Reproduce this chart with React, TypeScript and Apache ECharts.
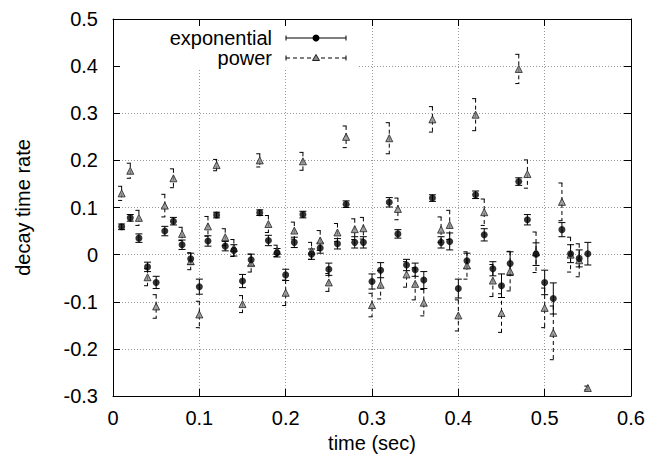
import React, { useEffect, useRef } from "react";
import * as echarts from "echarts";

const times = [
  0.01, 0.02, 0.03, 0.04, 0.05, 0.06, 0.07, 0.08, 0.09, 0.1,
  0.11, 0.12, 0.13, 0.14, 0.15, 0.16, 0.17, 0.18, 0.19, 0.2,
  0.21, 0.22, 0.23, 0.24, 0.25, 0.26, 0.27, 0.28, 0.29, 0.3,
  0.31, 0.32, 0.33, 0.34, 0.35, 0.36, 0.37, 0.38, 0.39, 0.4,
  0.41, 0.42, 0.43, 0.44, 0.45, 0.46, 0.47, 0.48, 0.49, 0.5,
  0.51, 0.52, 0.53, 0.54, 0.55,
];

const expValues = [
  0.059, 0.078, 0.035, -0.026, -0.059, 0.05, 0.071, 0.021, -0.009, -0.068,
  0.029, 0.084, 0.018, 0.009, -0.056, -0.011, 0.089, 0.03, 0.004, -0.043,
  0.026, 0.085, 0.001, 0.014, -0.031, 0.023, 0.107, 0.026, 0.026, -0.057,
  -0.033, 0.111, 0.044, -0.022, -0.032, -0.054, 0.12, 0.026, 0.028, -0.072,
  -0.013, 0.127, 0.042, -0.03, -0.066, -0.019, 0.155, 0.074, 0.001, -0.059,
  -0.093, 0.053, 0.002, -0.008, 0.002,
];

const expErrors = [
  0.006, 0.007, 0.009, 0.01, 0.013, 0.01, 0.008, 0.01, 0.012, 0.016,
  0.011, 0.006, 0.01, 0.012, 0.014, 0.012, 0.006, 0.011, 0.009, 0.012,
  0.011, 0.007, 0.011, 0.011, 0.013, 0.011, 0.007, 0.012, 0.012, 0.016,
  0.016, 0.01, 0.009, 0.012, 0.014, 0.018, 0.007, 0.012, 0.018, 0.02,
  0.016, 0.008, 0.013, 0.015, 0.025, 0.025, 0.008, 0.011, 0.024, 0.026,
  0.033, 0.015, 0.019, 0.018, 0.024,
];

const powValues = [
  0.13, 0.178, 0.078, -0.048, -0.11, 0.104, 0.162, 0.044, -0.014, -0.127,
  0.06, 0.19, 0.037, 0.014, -0.105, -0.018, 0.2, 0.065, 0.008, -0.081,
  0.051, 0.198, 0.008, 0.03, -0.059, 0.047, 0.25, 0.054, 0.056, -0.107,
  -0.064, 0.247, 0.097, -0.042, -0.062, -0.102, 0.287, 0.053, 0.063, -0.129,
  -0.023, 0.297, 0.09, -0.055, -0.124, -0.035, 0.394, 0.171, 0.005, -0.113,
  -0.166, 0.112, 0.0, -0.012, -0.283,
];

const powErrors = [
  0.015, 0.016, 0.016, 0.018, 0.025, 0.024, 0.02, 0.014, 0.018, 0.028,
  0.021, 0.012, 0.018, 0.018, 0.018, 0.019, 0.014, 0.018, 0.012, 0.027,
  0.018, 0.019, 0.018, 0.021, 0.019, 0.019, 0.023, 0.022, 0.023, 0.025,
  0.03, 0.033, 0.023, 0.027, 0.034, 0.028, 0.027, 0.027, 0.031, 0.033,
  0.029, 0.034, 0.028, 0.034, 0.041, 0.042, 0.031, 0.03, 0.043, 0.042,
  0.057, 0.04, 0.037, 0.035, 0.004,
];

const xTicks = [0, 0.1, 0.2, 0.3, 0.4, 0.5, 0.6];
const yTicks = [-0.3, -0.2, -0.1, 0, 0.1, 0.2, 0.3, 0.4, 0.5];

const FONT = "'Liberation Sans', Arial, Helvetica, sans-serif";
const FS = 20;

function errorBarSeries(name: string, values: number[], errors: number[], dashed: boolean) {
  const dash = dashed ? [4, 3] : null;
  return {
    type: "custom",
    name,
    clip: true,
    z: 2,
    encode: { x: 0, y: 1 },
    data: times.map((t, i) => [t, values[i], errors[i]]),
    renderItem: (_params: any, api: any) => {
      const x = api.value(0);
      const y = api.value(1);
      const e = api.value(2);
      const top = api.coord([x, y + e]);
      const bot = api.coord([x, y - e]);
      const cw = 3.5;
      const style = { stroke: "#000", lineWidth: 1, lineDash: dash, fill: null };
      return {
        type: "group",
        children: [
          { type: "line", shape: { x1: top[0], y1: top[1], x2: bot[0], y2: bot[1] }, style },
          { type: "line", shape: { x1: top[0] - cw, y1: top[1], x2: top[0] + cw, y2: top[1] }, style },
          { type: "line", shape: { x1: bot[0] - cw, y1: bot[1], x2: bot[0] + cw, y2: bot[1] }, style },
        ],
      };
    },
  };
}

export default function App() {
  const ref = useRef<HTMLDivElement>(null);
  useEffect(() => {
    if (!ref.current) return;
    const chart = echarts.init(ref.current, null, { renderer: "svg" });
    const fmt = (v: number) => String(Number(v.toFixed(1)));
    const axisLine = { show: true, onZero: false, lineStyle: { color: "#000", width: 1 } };
    const tick = { show: true, inside: true, length: 7, lineStyle: { color: "#000" } };
    const split = { show: true, lineStyle: { color: "#999", type: [1, 2], width: 1 } };
    const option: any = {
      animation: false,
      backgroundColor: "#fff",
      textStyle: { fontFamily: FONT },
      grid: { left: 113, right: 21, top: 19, bottom: 67, containLabel: false },
      xAxis: [
        {
          type: "value",
          position: "bottom",
          min: xTicks[0],
          max: xTicks[xTicks.length - 1],
          interval: 0.1,
          name: "time (sec)",
          nameLocation: "middle",
          nameGap: 33,
          nameTextStyle: { fontSize: FS, color: "#000", fontFamily: FONT },
          axisLine,
          axisTick: tick,
          axisLabel: { fontSize: FS, color: "#000", fontFamily: FONT, margin: 12, formatter: fmt },
          splitLine: split,
        },
        {
          type: "value",
          position: "top",
          min: xTicks[0],
          max: xTicks[xTicks.length - 1],
          interval: 0.1,
          axisLine,
          axisTick: tick,
          axisLabel: { show: false },
          splitLine: { show: false },
        },
      ],
      yAxis: [
        {
          type: "value",
          position: "left",
          min: yTicks[0],
          max: yTicks[yTicks.length - 1],
          interval: 0.1,
          name: "decay time rate",
          nameLocation: "middle",
          nameGap: 80,
          nameRotate: 90,
          nameTextStyle: { fontSize: FS, color: "#000", fontFamily: FONT },
          axisLine,
          axisTick: tick,
          axisLabel: { fontSize: FS, color: "#000", fontFamily: FONT, margin: 15, formatter: fmt },
          splitLine: split,
        },
        {
          type: "value",
          position: "right",
          min: yTicks[0],
          max: yTicks[yTicks.length - 1],
          interval: 0.1,
          axisLine,
          axisTick: tick,
          axisLabel: { show: false },
          splitLine: { show: false },
        },
      ],
      graphic: [
        { type: "rect", z: 1, shape: { x: 121, y: 27, width: 237, height: 42 }, style: { fill: "#fff" } },
        {
          type: "text", z: 10, x: 272, y: 38,
          style: { text: "exponential", font: `${FS}px ${FONT}`, fill: "#000", textAlign: "right", textVerticalAlign: "middle" },
        },
        {
          type: "text", z: 10, x: 272, y: 58,
          style: { text: "power", font: `${FS}px ${FONT}`, fill: "#000", textAlign: "right", textVerticalAlign: "middle" },
        },
        { type: "line", z: 10, shape: { x1: 286, y1: 38, x2: 346, y2: 38 }, style: { stroke: "#000", lineWidth: 1 } },
        { type: "line", z: 10, shape: { x1: 286, y1: 35.5, x2: 286, y2: 40.5 }, style: { stroke: "#000", lineWidth: 1 } },
        { type: "line", z: 10, shape: { x1: 346, y1: 35.5, x2: 346, y2: 40.5 }, style: { stroke: "#000", lineWidth: 1 } },
        { type: "circle", z: 10, shape: { cx: 316, cy: 38, r: 3.5 }, style: { fill: "#000" } },
        { type: "line", z: 10, shape: { x1: 286, y1: 58, x2: 346, y2: 58 }, style: { stroke: "#000", lineWidth: 1, lineDash: [4, 3] } },
        { type: "line", z: 10, shape: { x1: 286, y1: 55.5, x2: 286, y2: 60.5 }, style: { stroke: "#000", lineWidth: 1 } },
        { type: "line", z: 10, shape: { x1: 346, y1: 55.5, x2: 346, y2: 60.5 }, style: { stroke: "#000", lineWidth: 1 } },
        {
          type: "polygon", z: 10,
          shape: { points: [[316, 54.5], [319.5, 60.5], [312.5, 60.5]] },
          style: { fill: "#888", stroke: "#222", lineWidth: 1 },
        },
      ],
      series: [
        errorBarSeries("power err", powValues, powErrors, true),
        errorBarSeries("exp err", expValues, expErrors, false),
        {
          type: "scatter",
          name: "power",
          symbol: "triangle",
          symbolSize: 7,
          z: 3,
          itemStyle: { color: "#888", borderColor: "#222", borderWidth: 1 },
          data: times.map((t, i) => [t, powValues[i]]),
        },
        {
          type: "scatter",
          name: "exponential",
          symbol: "circle",
          symbolSize: 7,
          z: 4,
          itemStyle: { color: "#000" },
          data: times.map((t, i) => [t, expValues[i]]),
        },
      ],
    };
    chart.setOption(option);
    return () => chart.dispose();
  }, []);
  return (
    <div
      ref={ref}
      style={{ position: "fixed", left: 0, top: 0, width: 652, height: 463, background: "#fff" }}
    />
  );
}
